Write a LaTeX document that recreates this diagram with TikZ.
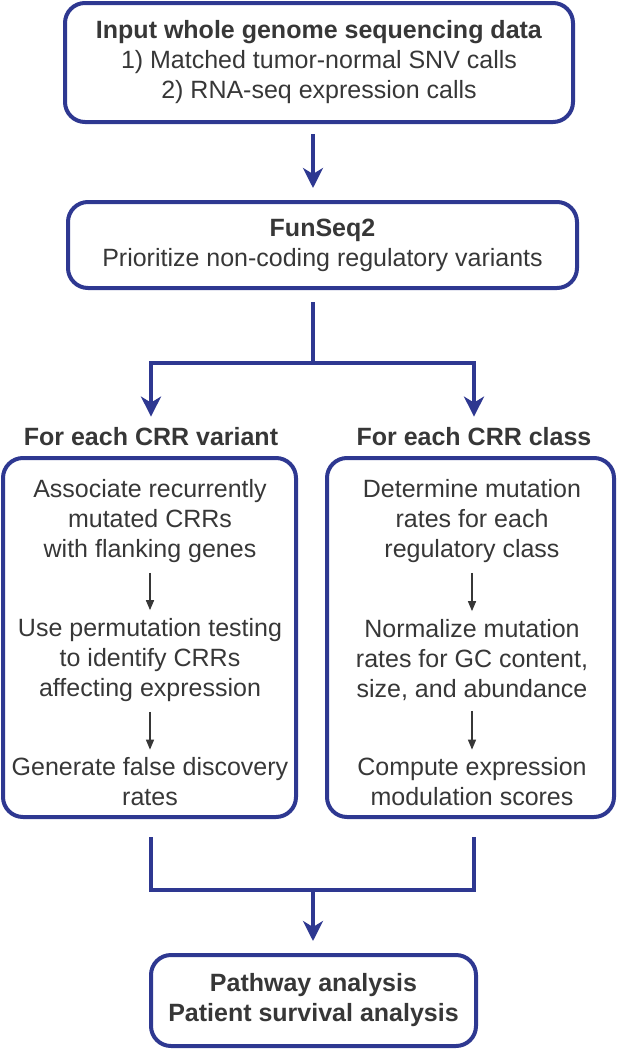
\documentclass[tikz,border=0pt]{standalone}
\usepackage{fontspec}
\setmainfont{Liberation Sans}
\usepackage{tikz}
\usetikzlibrary{arrows.meta,calc}
\definecolor{navy}{RGB}{46,56,145}
\definecolor{ink}{RGB}{55,55,55}

\begin{document}
\begin{tikzpicture}[x=1pt,y=-1pt,
  every node/.style={text=ink,font=\fontsize{25}{30}\selectfont,align=center,inner sep=0pt},
  stage/.style={draw=navy,line width=4pt,rounded corners=20pt},
  trunk/.style={navy,line width=4pt},
  flow/.style={trunk,-{Stealth[length=20pt,width=20pt,inset=6pt]}},
  substep/.style={ink,line width=1.5pt,-{Triangle[length=10pt,width=8pt]},shorten <=10pt,shorten >=8pt}]
\useasboundingbox (0,0) rectangle (620,1050);

\node[stage,minimum width=508pt,minimum height=119pt] (input) at (319,62.5) {\textbf{Input whole genome sequencing data}\\1) Matched tumor-normal SNV calls\\2) RNA-seq expression calls};
\node[stage,minimum width=509pt,minimum height=86pt] (funseq) at (322.5,245) {\textbf{FunSeq2}\\Prioritize non-coding regulatory variants};
\coordinate (split) at (313,363);
\draw[flow,shorten <=10pt,shorten >=12pt] (input.south -| split) -- (funseq.north -| split);
\draw[trunk,shorten <=12pt] (funseq.south -| split) -- (split);

\node[font=\bfseries\fontsize{25}{30}\selectfont] (lblvar) at (151,437) {For each CRR variant};
\node[font=\bfseries\fontsize{25}{30}\selectfont] (lblcls) at (474,437) {For each CRR class};
\draw[flow,shorten >=11pt] (split) -| (lblvar.north);
\draw[flow,shorten >=11pt] (split) -| (lblcls.north);

\node[stage,minimum width=293pt,minimum height=359pt] (leftpanel) at (149.5,637.5) {};
\node[stage,minimum width=287pt,minimum height=359pt] (rightpanel) at (470.5,637.5) {};

\node (assoc) at (150,521) {Associate recurrently\\mutated CRRs\\with flanking genes};
\node (permut) at (150,660) {Use permutation testing\\to identify CRRs\\affecting expression};
\node (fdr) at (150,782) {Generate false discovery\\rates};
\draw[substep] (assoc) -- (permut);
\draw[substep] (permut) -- (fdr);

\node (determine) at (472,521) {Determine mutation\\rates for each\\regulatory class};
\node (normalize) at (472,660) {Normalize mutation\\rates for GC content,\\size, and abundance};
\node (compute) at (472,782) {Compute expression\\modulation scores};
\draw[substep] (determine) -- (normalize);
\draw[substep] (normalize) -- (compute);

\coordinate (join) at (313,890);
\draw[trunk,shorten <=18pt,shorten >=18pt] (leftpanel.south -| lblvar) |- (join) -| (rightpanel.south -| lblcls);
\node[stage,minimum width=325pt,minimum height=91pt,font=\bfseries\fontsize{25}{30}\selectfont] (result) at (313.5,1000.5) {Pathway analysis\\Patient survival analysis};
\draw[flow,shorten >=12pt] (join) -- (result.north -| join);
\end{tikzpicture}
\end{document}
